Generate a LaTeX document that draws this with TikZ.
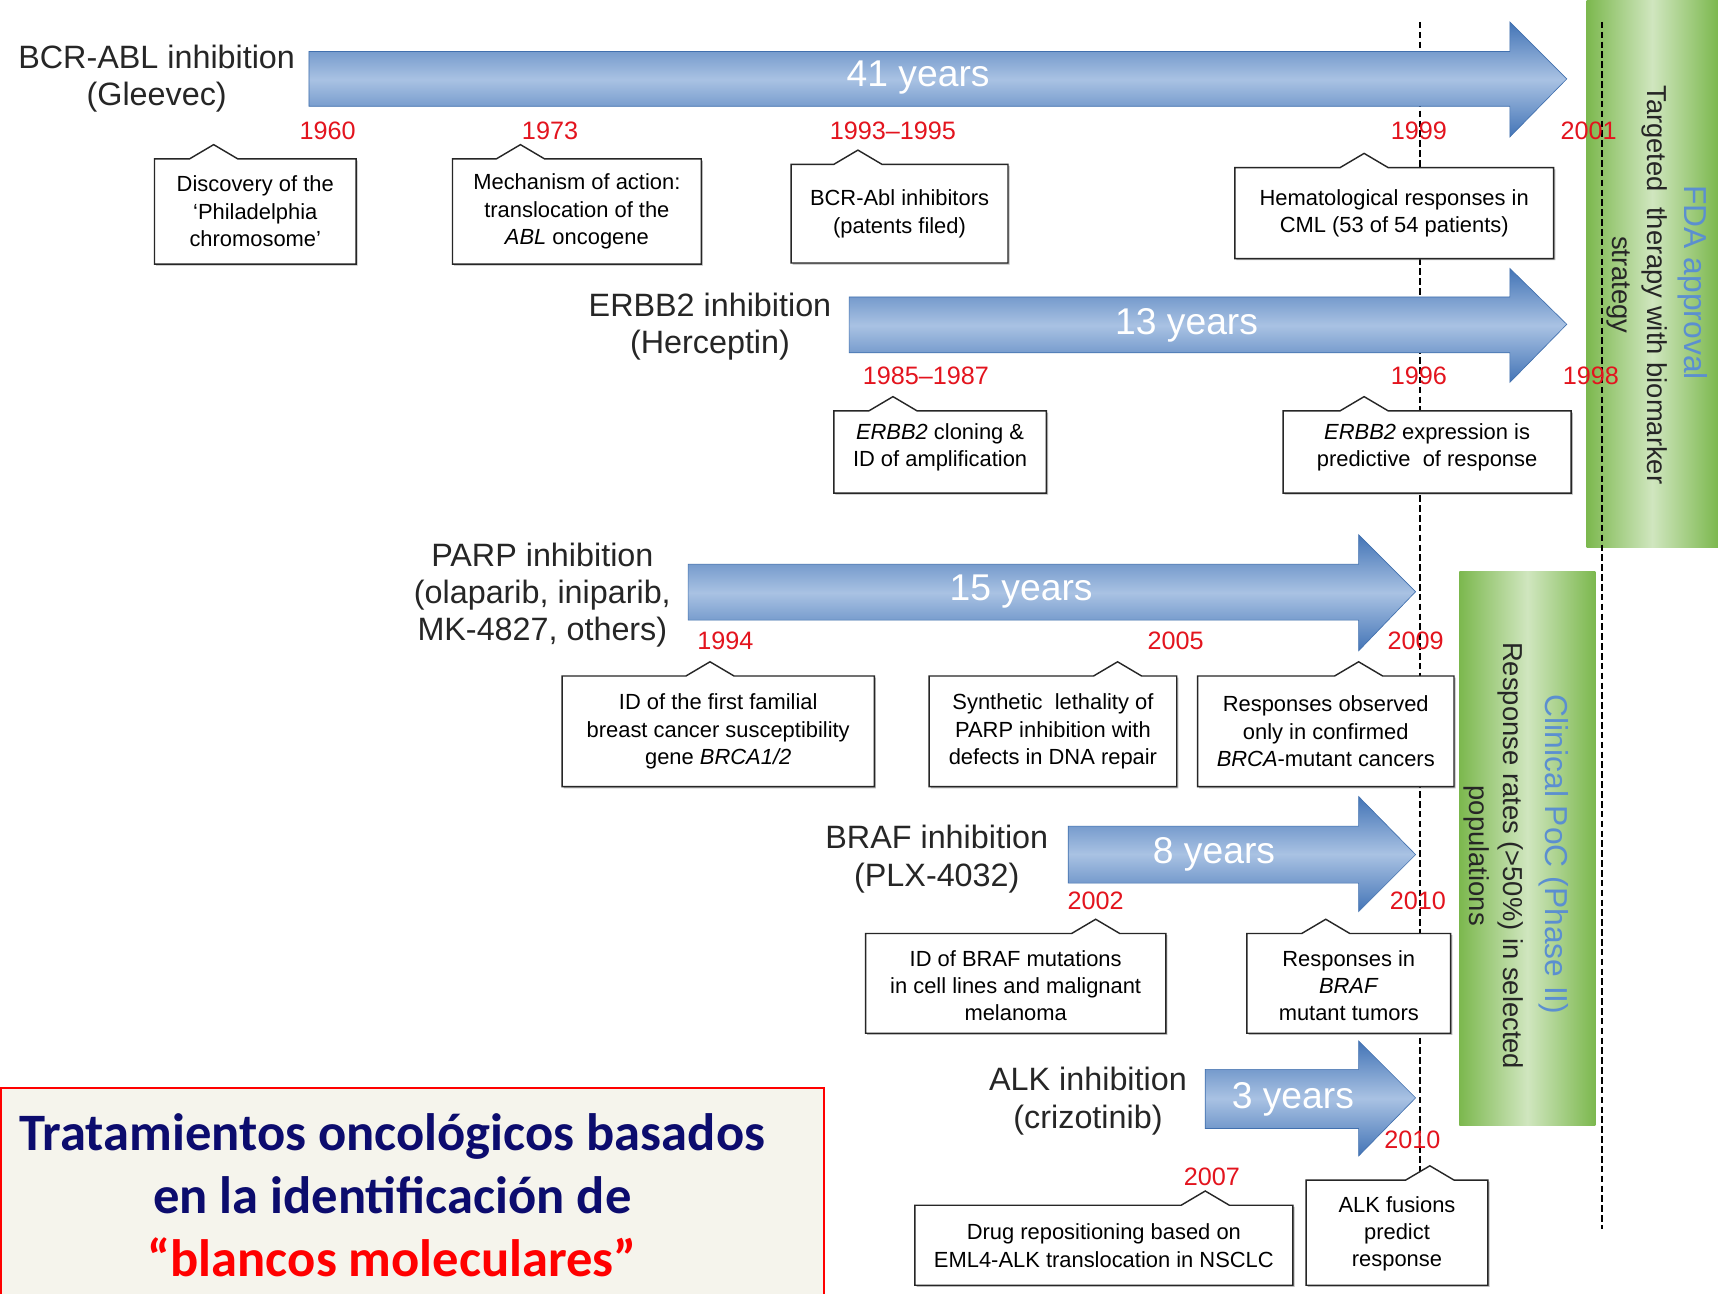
\documentclass[tikz,border=0pt]{standalone}
\usepackage{fontspec}
\setmainfont{Liberation Sans}
\newfontfamily\calib{Carlito}
\usetikzlibrary{shadows}
\definecolor{arrdark}{HTML}{4374B6}
\definecolor{arrlight}{HTML}{A9C2E3}
\definecolor{arredge}{HTML}{4170AE}
\definecolor{grnedge}{HTML}{7CB84E}
\definecolor{grnmid}{HTML}{D0E6BF}
\definecolor{yearred}{HTML}{E3141E}
\definecolor{fdablue}{HTML}{5B8FD0}
\definecolor{navy}{HTML}{0C0C6E}
\definecolor{creamfill}{HTML}{F5F4EC}
\tikzset{
  arrowshade/.style={top color=arrdark, bottom color=arrdark, middle color=arrlight, draw=arredge, line width=0.6pt},
  greenbar/.style={left color=grnedge, right color=grnedge, middle color=grnmid, draw=none},
  dashline/.style={draw=black, line width=1.3pt, dash pattern=on 6pt off 3pt},
  boxline/.style={draw=black!85, line width=1.3pt, fill=white, line join=miter,
     drop shadow={shadow xshift=1.5pt, shadow yshift=-1.5pt, opacity=0.45, fill=black!60}},
  boxtxt/.style={align=center, font=\fontsize{20}{25}\selectfont, inner sep=0pt},
  lbl/.style={align=center, font=\fontsize{29.5}{34}\selectfont, text=black!85, inner sep=0pt},
  yrs/.style={font=\fontsize{34}{36}\selectfont, text=white, inner sep=0pt},
  yr/.style={font=\fontsize{23}{26}\selectfont, text=yearred, inner sep=0pt},
  rottxt/.style={rotate=-90, align=center, inner sep=0pt},
}
\newcommand\callbox[5]{%
  \draw[boxline] (#1,#2) -- (#5-22,#2) -- (#5,#2-13) -- (#5+22,#2) -- (#3,#2) -- (#3,#4) -- (#1,#4) -- cycle;}
\newcommand\bigarrow[8]{% x0, bodytop, bodybottom, headx, headtop, headbottom, tipx, tipy
  \shade[arrowshade] (#1,#2) -- (#4,#2) -- (#4,#5) -- (#7,#8) -- (#4,#6) -- (#4,#3) -- (#1,#3) -- cycle;}
\begin{document}
\begin{tikzpicture}[x=1pt,y=-1pt]
\useasboundingbox (0,0) rectangle (1568,1181);
\fill[white] (0,0) rectangle (1568,1181);

% green bars
\shade[greenbar] (1448,0) rectangle (1568,500);
\shade[greenbar] (1332,522) rectangle (1456,1027);
\node[rottxt, text=fdablue, font=\fontsize{29}{32}\selectfont] (fda) at (1545,258) {FDA approval};
\node[rottxt, text=black!85, font=\fontsize{25}{32}\selectfont] (tgt) at (1494,260) {Targeted \ therapy with biomarker\\strategy};
\node[rottxt, text=fdablue, font=\fontsize{29}{32}\selectfont] (poc) at (1418,780) {Clinical PoC (Phase II)};
\node[rottxt, text=black!85, font=\fontsize{25}{31}\selectfont] (rr) at (1363,781) {Response rates (>50\%) in selected\\populations};

% dashed lines
\coordinate (d1t) at (1296,20);
\coordinate (d1b) at (1296,1070);
\coordinate (d2t) at (1462,20);
\coordinate (d2b) at (1462,1122);
\draw[dashline] (d1t) -- (d1b);
\draw[dashline] (d2t) -- (d2b);

% arrows
\bigarrow{282}{47}{97}{1378}{20}{125}{1430}{72}
\bigarrow{775}{271}{322}{1378}{245}{349}{1430}{296}
\bigarrow{628}{515}{566}{1240}{488}{594}{1292}{540}
\bigarrow{975}{754}{806}{1240}{727}{832}{1292}{780}
\bigarrow{1100}{976}{1030}{1240}{950}{1055}{1292}{1002}
\node[yrs] (y41) at (838,71) {41 years};
\node[yrs] (y13) at (1083,297) {13 years};
\node[yrs] (y15) at (932,540) {15 years};
\node[yrs] (y8) at (1108,780) {8 years};
\node[yrs] (y3) at (1180,1003) {3 years};

% row labels
\node[lbl] (lbcr) at (143,72) {BCR-ABL inhibition\\(Gleevec)};
\node[lbl] (lerb) at (648,298) {ERBB2 inhibition\\(Herceptin)};
\node[lbl] (lparp) at (495,543) {PARP inhibition\\(olaparib, iniparib,\\MK-4827, others)};
\node[lbl] (lbraf) at (855,784) {BRAF inhibition\\(PLX-4032)};
\node[lbl] (lalk) at (993,1005) {ALK inhibition\\(crizotinib)};

% years
\node[yr] (a1960) at (299,119) {1960};
\node[yr] (a1973) at (502,119) {1973};
\node[yr] (a1993) at (815,119) {1993--1995};
\node[yr] (a1999) at (1295,119) {1999};
\node[yr] (a2001) at (1450,119) {2001};
\node[yr] (a1985) at (845,343) {1985--1987};
\node[yr] (a1996) at (1295,343) {1996};
\node[yr] (a1998) at (1452,343) {1998};
\node[yr] (a1994) at (662,585) {1994};
\node[yr] (a2005) at (1073,585) {2005};
\node[yr] (a2009) at (1292,585) {2009};
\node[yr] (a2002) at (1000,822) {2002};
\node[yr] (a2010a) at (1294,822) {2010};
\node[yr] (a2007) at (1106,1074) {2007};
\node[yr] (a2010b) at (1289,1040) {2010};

% callout boxes
\callbox{141}{145}{325}{241}{195}
\node[boxtxt] (b1) at (233,193) {Discovery of the\\‘Philadelphia\\chromosome’};
\callbox{413}{145}{640}{241}{475}
\node[boxtxt] (b2) at (526.5,193) {Mechanism of action:\\translocation of the\\\textit{ABL} oncogene};
\callbox{722}{150}{920}{240}{783}
\node[boxtxt] (b3) at (821,195) {BCR-Abl inhibitors\\(patents filed)};
\callbox{1127}{153}{1418}{236}{1245}
\node[boxtxt] (b4) at (1272.5,194.5) {Hematological responses in\\CML (53 of 54 patients)};
\callbox{761}{375}{955}{450}{815}
\node[boxtxt] (b5) at (858,408) {\textit{ERBB2} cloning \&\\ID of amplification};
\callbox{1171}{375}{1434}{450}{1245}
\node[boxtxt] (b6) at (1302.5,408) {\textit{ERBB2} expression is\\predictive \ of response};
\callbox{513}{617}{798}{718}{648}
\node[boxtxt] (b7) at (655.5,667.5) {ID of the first familial\\breast cancer susceptibility\\gene \textit{BRCA1/2}};
\callbox{848}{617}{1074}{718}{1020}
\node[boxtxt] (b8) at (961,667.5) {Synthetic \ lethality of\\PARP inhibition with\\defects in DNA repair};
\callbox{1093}{617}{1327}{718}{1240}
\node[boxtxt] (b9) at (1210,667.5) {Responses observed\\only in confirmed\\\textit{BRCA}-mutant cancers};
\callbox{790}{852}{1064}{943}{1000}
\node[boxtxt] (b10) at (927,899.5) {ID of BRAF mutations\\in cell lines and malignant\\melanoma};
\callbox{1138}{852}{1324}{943}{1210}
\node[boxtxt] (b11) at (1231,899.5) {Responses in\\\textit{BRAF}\\mutant tumors};
\callbox{835}{1100}{1180}{1173}{1100}
\node[boxtxt] (b12) at (1007.5,1137) {Drug repositioning based on\\EML4-ALK translocation in NSCLC};
\callbox{1192}{1077}{1358}{1173}{1305}
\node[boxtxt] (b13) at (1275,1126) {ALK fusions\\predict\\response};

% red title box
\draw[red, line width=1.2pt, fill=creamfill] (1,993) rectangle (752,1190);
\node[font=\calib\bfseries\fontsize{48}{57.5}\selectfont, align=center, inner sep=0pt] (title) at (358,1091)
  {\textcolor{navy}{Tratamientos oncológicos basados}\\\textcolor{navy}{en la identificación de}\\\textcolor{red}{“blancos moleculares”}};
\end{tikzpicture}
\end{document}
